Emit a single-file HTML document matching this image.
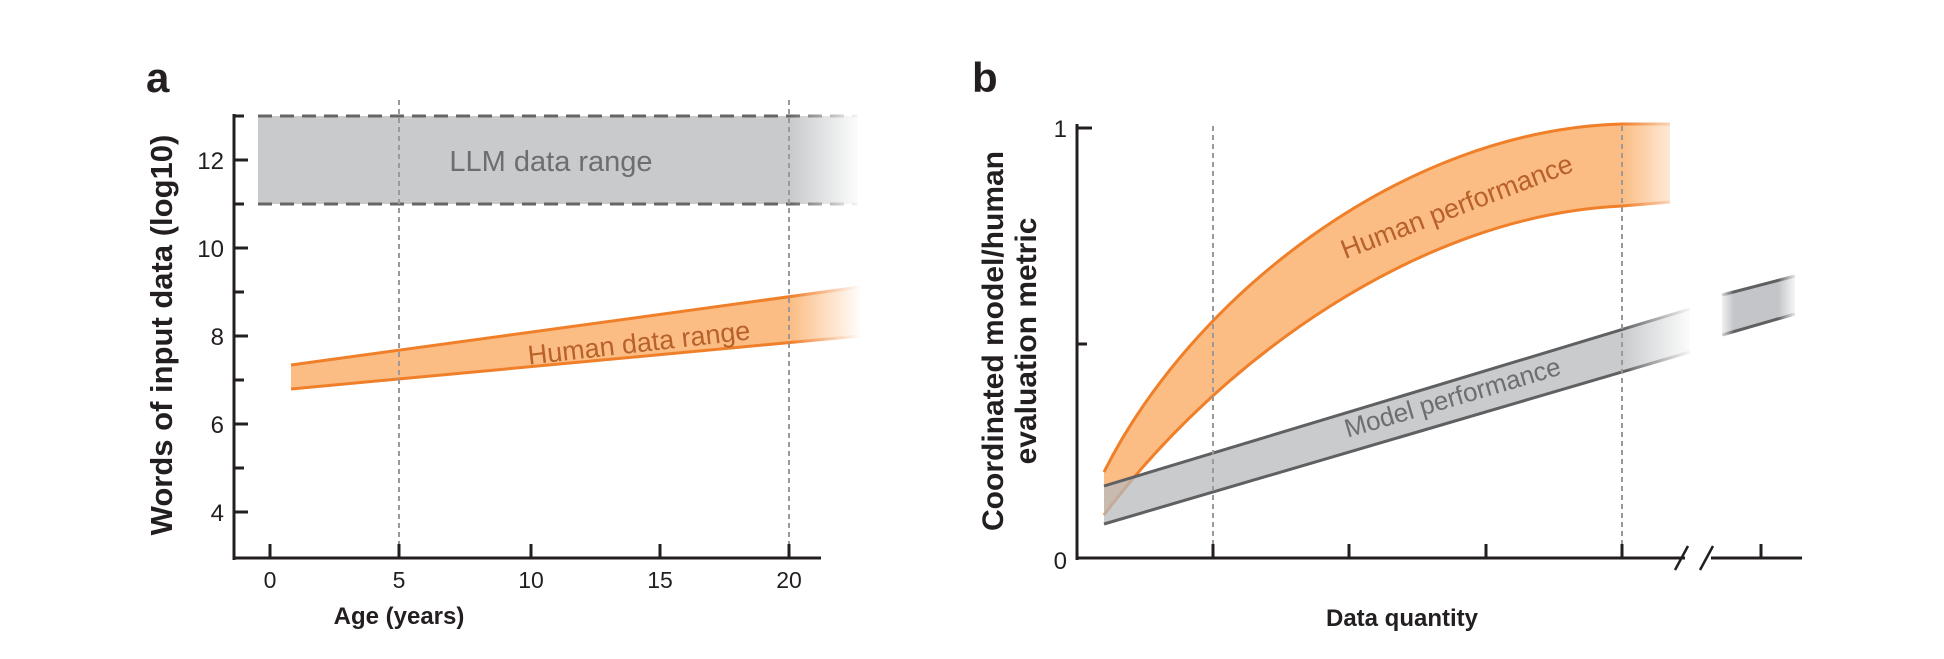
<!DOCTYPE html>
<html><head><meta charset="utf-8"><style>
html,body{margin:0;padding:0;background:#fff;}
svg{display:block;font-family:"Liberation Sans",sans-serif;}
</style></head><body>
<svg width="1944" height="659" viewBox="0 0 1944 659" xmlns="http://www.w3.org/2000/svg">
<defs>
<linearGradient id="fa" x1="0" x2="1" y1="0" y2="0"><stop offset="0" stop-color="#fff" stop-opacity="0"/><stop offset="1" stop-color="#fff" stop-opacity="1"/></linearGradient>
<linearGradient id="fb" x1="0" x2="1" y1="0" y2="0"><stop offset="0" stop-color="#fff" stop-opacity="1"/><stop offset="1" stop-color="#fff" stop-opacity="0"/></linearGradient>
</defs>
<rect width="1944" height="659" fill="#fff"/>

<!-- Panel a -->
<text x="146" y="92" font-size="42" font-weight="bold" fill="#231f20">a</text>
<rect x="258" y="116" width="600" height="88" fill="#c8cacc"/>
<line x1="258" y1="116" x2="858" y2="116" stroke="#666" stroke-width="3" stroke-dasharray="14,8"/>
<line x1="258" y1="204" x2="858" y2="204" stroke="#666" stroke-width="3" stroke-dasharray="14,8"/>
<text x="551" y="171" font-size="29" fill="#6d6e70" text-anchor="middle">LLM data range</text>
<path d="M291,365 L860,287 L860,336 L291,389 Z" fill="#fbbd84"/>
<line x1="291" y1="365" x2="860" y2="287" stroke="#f07f2a" stroke-width="3"/>
<line x1="291" y1="389" x2="860" y2="336" stroke="#f07f2a" stroke-width="3"/>
<text transform="translate(640,352) rotate(-6.5)" font-size="27" fill="#b8612a" text-anchor="middle">Human data range</text>
<rect x="790" y="100" width="72" height="300" fill="url(#fa)"/>
<line x1="399" y1="100" x2="399" y2="558" stroke="#9a9a9a" stroke-width="2" stroke-dasharray="5,4"/>
<line x1="789" y1="100" x2="789" y2="558" stroke="#9a9a9a" stroke-width="2" stroke-dasharray="5,4"/>
<line x1="234" y1="114" x2="234" y2="560" stroke="#231f20" stroke-width="3"/>
<line x1="233" y1="558" x2="821" y2="558" stroke="#231f20" stroke-width="3"/>
<g stroke="#231f20" stroke-width="3">
<line x1="234" y1="116" x2="244" y2="116"/><line x1="234" y1="160" x2="248" y2="160"/>
<line x1="234" y1="204" x2="244" y2="204"/><line x1="234" y1="248" x2="248" y2="248"/>
<line x1="234" y1="292" x2="244" y2="292"/><line x1="234" y1="336" x2="248" y2="336"/>
<line x1="234" y1="380" x2="244" y2="380"/><line x1="234" y1="424" x2="248" y2="424"/>
<line x1="234" y1="468" x2="244" y2="468"/><line x1="234" y1="512" x2="248" y2="512"/>
<line x1="270" y1="558" x2="270" y2="544"/><line x1="399" y1="558" x2="399" y2="544"/>
<line x1="531" y1="558" x2="531" y2="544"/><line x1="660" y1="558" x2="660" y2="544"/>
<line x1="789" y1="558" x2="789" y2="544"/>
</g>
<g font-size="24" fill="#231f20" text-anchor="end">
<text x="224" y="169">12</text><text x="224" y="257">10</text><text x="224" y="345">8</text><text x="224" y="433">6</text><text x="224" y="521">4</text>
</g>
<g font-size="23" fill="#231f20" text-anchor="middle">
<text x="270" y="588">0</text><text x="399" y="588">5</text><text x="531" y="588">10</text><text x="660" y="588">15</text><text x="789" y="588">20</text>
</g>
<text x="399" y="624" font-size="24" font-weight="bold" fill="#231f20" text-anchor="middle">Age (years)</text>
<text transform="translate(172,335) rotate(-90)" font-size="31" font-weight="bold" fill="#231f20" text-anchor="middle">Words of input data (log10)</text>

<!-- Panel b -->
<text x="972" y="92" font-size="42" font-weight="bold" fill="#231f20">b</text>
<path d="M1104,472 C1190,300 1400,130 1622,124 L1670,124 L1670,202 L1622,206 C1420,215 1220,360 1104,515 Z" fill="#fbbd84"/>
<path d="M1104,472 C1190,300 1400,130 1622,124 L1670,124" fill="none" stroke="#f07f2a" stroke-width="3"/>
<path d="M1104,515 C1220,360 1420,215 1622,206 L1670,202" fill="none" stroke="#f07f2a" stroke-width="3"/>
<text transform="translate(1460,215) rotate(-21)" font-size="27" fill="#b8612a" text-anchor="middle">Human performance</text>
<path d="M1104,486 L1690,309 L1690,352 L1104,524 Z" fill="#b7b9bc" fill-opacity="0.75"/>
<line x1="1104" y1="486" x2="1690" y2="309" stroke="#5f6062" stroke-width="3"/>
<line x1="1104" y1="524" x2="1690" y2="352" stroke="#5f6062" stroke-width="3"/>
<text transform="translate(1455,406) rotate(-16.5)" font-size="26" fill="#6d6e70" text-anchor="middle">Model performance</text>
<rect x="1622" y="110" width="72" height="260" fill="url(#fa)"/>
<path d="M1722,295 L1795,276 L1795,314 L1722,335 Z" fill="#c3c5c8"/>
<line x1="1722" y1="295" x2="1795" y2="276" stroke="#5f6062" stroke-width="3"/>
<line x1="1722" y1="335" x2="1795" y2="314" stroke="#5f6062" stroke-width="3"/>
<rect x="1718" y="265" width="16" height="80" fill="url(#fb)"/>
<rect x="1778" y="265" width="20" height="80" fill="url(#fa)"/>
<line x1="1213" y1="126" x2="1213" y2="556" stroke="#9a9a9a" stroke-width="2" stroke-dasharray="5,4"/>
<line x1="1622" y1="126" x2="1622" y2="556" stroke="#9a9a9a" stroke-width="2" stroke-dasharray="5,4"/>
<line x1="1077" y1="124" x2="1077" y2="560" stroke="#231f20" stroke-width="3"/>
<line x1="1076" y1="558" x2="1685" y2="558" stroke="#231f20" stroke-width="3"/>
<line x1="1711" y1="558" x2="1802" y2="558" stroke="#231f20" stroke-width="3"/>
<line x1="1675" y1="570" x2="1688" y2="546" stroke="#231f20" stroke-width="2.5"/>
<line x1="1700" y1="570" x2="1713" y2="546" stroke="#231f20" stroke-width="2.5"/>
<g stroke="#231f20" stroke-width="3">
<line x1="1077" y1="128" x2="1092" y2="128"/><line x1="1077" y1="344" x2="1087" y2="344"/>
<line x1="1213" y1="558" x2="1213" y2="544"/><line x1="1349" y1="558" x2="1349" y2="544"/>
<line x1="1486" y1="558" x2="1486" y2="544"/><line x1="1622" y1="558" x2="1622" y2="544"/>
<line x1="1761" y1="558" x2="1761" y2="544"/>
</g>
<text x="1067" y="137" font-size="24" fill="#231f20" text-anchor="end">1</text>
<text x="1067" y="569" font-size="24" fill="#231f20" text-anchor="end">0</text>
<text x="1402" y="626" font-size="24" font-weight="bold" fill="#231f20" text-anchor="middle">Data quantity</text>
<text transform="translate(1003,341) rotate(-90)" font-size="30" font-weight="bold" fill="#231f20" text-anchor="middle">Coordinated model/human</text>
<text transform="translate(1036,341) rotate(-90)" font-size="30" font-weight="bold" fill="#231f20" text-anchor="middle">evaluation metric</text>
</svg>
</body></html>
